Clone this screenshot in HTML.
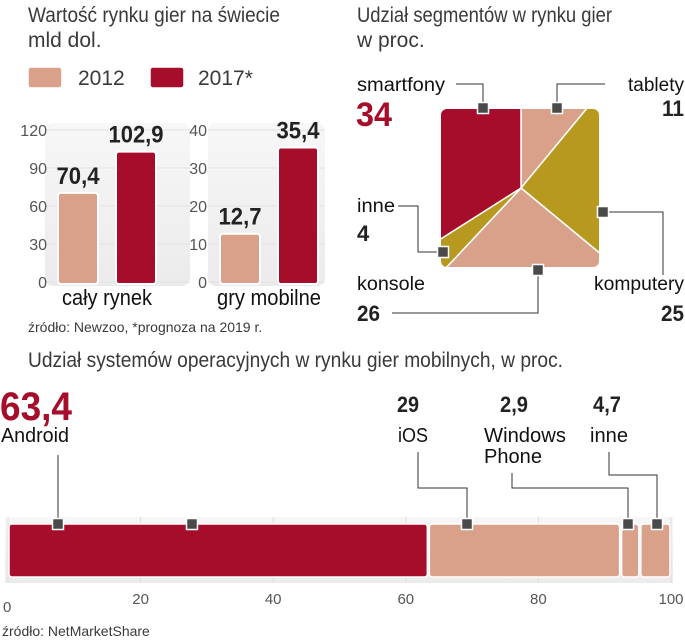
<!DOCTYPE html>
<html><head><meta charset="utf-8"><style>
html,body{margin:0;padding:0;background:#fff;}
svg{display:block;font-family:"Liberation Sans Narrow","Liberation Sans",sans-serif;}
.t{fill:#3a3a3a;}
.b{font-weight:bold;}
</style></head><body>
<svg id="c" width="685" height="640" viewBox="0 0 685 640">
<defs>
<clipPath id="sq"><rect x="440" y="108" width="160" height="160" rx="7"/></clipPath>
<linearGradient id="pg" x1="0" y1="0" x2="0" y2="1"><stop offset="0" stop-color="#f7f7f7"/><stop offset="1" stop-color="#ebebeb"/></linearGradient>
</defs>
<text x="28" y="22" font-size="21" class="t" textLength="252" lengthAdjust="spacingAndGlyphs">Wartość rynku gier na świecie</text>
<text x="28" y="47" font-size="21" class="t">mld dol.</text>
<g>
<rect x="28" y="67" width="34" height="21" rx="3" fill="#d9a08a" stroke="#fff" stroke-width="1.5"/>
<text x="78" y="85" font-size="21" class="t">2012</text>
<rect x="150" y="67" width="34" height="21" rx="3" fill="#a50d2a" stroke="#fff" stroke-width="1.5"/>
<text x="198" y="85" font-size="21" class="t">2017*</text>
</g>
<g id="bars"></g>
<text x="28" y="332" font-size="14" class="t">źródło: Newzoo, *prognoza na 2019 r.</text>

<text x="357" y="22" font-size="21" class="t" textLength="255" lengthAdjust="spacingAndGlyphs">Udział segmentów w rynku gier</text>
<text x="357" y="47" font-size="21" class="t">w proc.</text>
<g id="pie"></g>

<text x="28" y="367" font-size="21" class="t" textLength="535" lengthAdjust="spacingAndGlyphs">Udział systemów operacyjnych w rynku gier mobilnych, w proc.</text>
<g id="os"></g>
<text x="2" y="636" font-size="14" class="t">źródło: NetMarketShare</text>
</svg>
<script>
// ---- bar charts data ----
const barGroups = ["cały rynek", "gry mobilne"];
const values2012 = [70.4, 12.7];
const values2017 = [102.9, 35.4];
const valueLabels2012 = ["70,4", "12,7"];
const valueLabels2017 = ["102,9", "35,4"];
const axisMax = [120, 40];
const ticks1 = [0, 30, 60, 90, 120];
const ticks2 = [0, 10, 20, 30, 40];
// ---- segments data ----
const segNames = ["tablety", "komputery", "konsole", "inne", "smartfony"];
const segValues = [11, 25, 26, 4, 34];
// ---- OS data ----
const osNames = ["Android", "iOS", "Windows Phone", "inne"];
const osValues = [63.4, 29, 2.9, 4.7];
const osLabels = ["63,4", "29", "2,9", "4,7"];
const osTicks = [0, 20, 40, 60, 80, 100];

const NS = "http://www.w3.org/2000/svg";
function mk(parent, tag, attrs, text) {
  const e = document.createElementNS(NS, tag);
  for (const k in attrs) e.setAttribute(k, attrs[k]);
  if (text !== undefined) e.textContent = text;
  parent.appendChild(e);
  return e;
}
const RED = "#a50d2a", PINK = "#d9a08a", GOLD = "#b8991f";

// ---- bar charts ----
const bars = document.getElementById("bars");
const panels = [{x0: 45, x1: 190, lx: 47, ticks: ticks1, b1: 58, b2: 116},
                {x0: 208, x1: 325, lx: 207, ticks: ticks2, b1: 220, b2: 278}];
const yBase = 282, yTop = 130;
barGroups.forEach((g, i) => {
  const p = panels[i];
  const y = v => yBase - (v / axisMax[i]) * (yBase - yTop);
  const panel = mk(bars, "rect", {x: p.x0, y: 123, width: p.x1 - p.x0, height: 163, rx: 8, fill: "url(#pg)"});
  
  
  p.ticks.forEach(t => {
    const gl = mk(bars, "line", {x1: p.x0, x2: p.x1, y1: y(t), y2: y(t), stroke: "#e2e2e2", "stroke-width": 1});
    
    
    const tl = mk(bars, "text", {x: p.lx, y: y(t) + 6, "font-size": 16, "text-anchor": "end", style: "fill:#555"}, t);
    
    
  });
  [[values2012[i], valueLabels2012[i], PINK, p.b1, '2012'], [values2017[i], valueLabels2017[i], RED, p.b2, '2017']].forEach(([v, lab, col, bx, yr]) => {
    const r = mk(bars, "rect", {x: bx, y: y(v), width: 40, height: yBase - y(v) + 2, rx: 3, fill: col, stroke: "#fff", "stroke-width": 2});
    
    
    const tx = mk(bars, "text", {x: bx + 20, y: y(v) - 9, "font-size": 24, "text-anchor": "middle", class: "b", style: "fill:#222", textLength: lab.length > 4 ? 55 : 43, lengthAdjust: "spacingAndGlyphs"}, lab);
    
    
  });
  const cl = mk(bars, "text", {x: (p.b1 + p.b2 + 40) / 2, y: 305, "font-size": 22, "text-anchor": "middle", style: "fill:#111", textLength: i === 0 ? 90 : 104, lengthAdjust: "spacingAndGlyphs"}, g);
  
  
});

// ---- segments (pie clipped to square) ----
const pie = document.getElementById("pie");
const cx = 521, cy = 188, R = 200;
const sqBg = mk(pie, "rect", {x: 438, y: 106, width: 164, height: 164, rx: 8, fill: "#fff"});


const wedgeG = mk(pie, "g", {"clip-path": "url(#sq)"});
const segColors = [PINK, GOLD, PINK, GOLD, RED];
const total = segValues.reduce((a, b) => a + b, 0);
let acc = 0;
const pt = a => [cx + R * Math.sin(a), cy - R * Math.cos(a)];
segValues.forEach((v, i) => {
  const a0 = acc / total * 2 * Math.PI; acc += v;
  const a1 = acc / total * 2 * Math.PI;
  const p0 = pt(a0), p1 = pt(a1);
  const large = (a1 - a0) > Math.PI ? 1 : 0;
  const w = mk(wedgeG, "path", {d: `M${cx},${cy} L${p0[0]},${p0[1]} A${R},${R} 0 ${large} 1 ${p1[0]},${p1[1]} Z`, fill: segColors[i], stroke: "#fff", "stroke-width": 1.5});
  
  
});
const sqOutline = mk(pie, "rect", {x: 440, y: 108, width: 160, height: 160, rx: 7, fill: "none", stroke: "#fff", "stroke-width": 2});



function leader(g, d) {
  const l = mk(g, "path", {d: d, fill: "none", stroke: "#333", "stroke-width": 1});
  
  
}
function marker(g, x, y) {
  const m = mk(g, "rect", {x: x - 5.5, y: y - 5.5, width: 11, height: 11, fill: "#4a4a4a", stroke: "#fff", "stroke-width": 1.5});
  
  
}
function label(g, x, y, s, txt, anchor, bold, fill, name, w) {
  const a = {x: x, y: y, "font-size": s, "text-anchor": anchor || "start", style: "fill:" + (fill || "#222")};
  if (bold) a.class = "b";
  if (w) { a.textLength = w; a.lengthAdjust = "spacingAndGlyphs"; }
  const t = mk(g, "text", a, txt);
  
  
}
leader(pie, "M456,84 H483 V108");
leader(pie, "M605,84 H557 V108");
leader(pie, "M603,212 H663 V275");
leader(pie, "M398,206 H418 V252 H443");
leader(pie, "M392,313 H538 V270");
marker(pie, 483, 108); marker(pie, 557, 108); marker(pie, 603, 212); marker(pie, 443, 252); marker(pie, 538, 270);
label(pie, 357, 91, 19, segNames[4], "start", false, "#111", 'segment-label', 88);
label(pie, 356, 126, 34, String(segValues[4]), "start", true, RED, 'segment-value', 36);
label(pie, 684, 91, 19, segNames[0], "end", false, "#111", 'segment-label', 56);
label(pie, 684, 116, 22, String(segValues[0]), "end", true, "#222", 'segment-value', 22);
label(pie, 357, 212, 19, segNames[3], "start", false, "#111", 'segment-label', 38);
label(pie, 357, 241, 22, String(segValues[3]), "start", true, "#222", 'segment-value');
label(pie, 357, 290, 19, segNames[2], "start", false, "#111", 'segment-label', 68);
label(pie, 357, 321, 22, String(segValues[2]), "start", true, "#222", 'segment-value', 23);
label(pie, 684, 290, 19, segNames[1], "end", false, "#111", 'segment-label', 90);
label(pie, 684, 321, 22, String(segValues[1]), "end", true, "#222", 'segment-value', 23);

// ---- OS stacked bar ----
const os = document.getElementById("os");
const X = v => 8 + v * 6.63;
const osPanel = mk(os, "rect", {x: 5, y: 517, width: 668, height: 66, fill: "url(#pg)"});


osTicks.forEach((t, i) => {
  const gl = mk(os, "line", {x1: X(t), x2: X(t), y1: 517, y2: 583, stroke: "#dedede"});
  
  
  const tl = mk(os, "text", {x: X(t), y: i === 0 ? 612 : 604, "font-size": 15, "text-anchor": i === 0 ? "start" : "middle", style: "fill:#555"}, t);
  if (i === 0) tl.setAttribute("x", 3);
  
  
});
const osColors = [RED, PINK, PINK, PINK];
let oacc = 0;
osValues.forEach((v, i) => {
  const r = mk(os, "rect", {x: X(oacc) + 1, y: 524, width: Math.max(1, X(oacc + v) - X(oacc) - 2), height: 53, rx: 3, fill: osColors[i], stroke: "#fff", "stroke-width": 1.5});
  
  
  oacc += v;
});
leader(os, "M58,455 V524");
leader(os, "M418,452 V488 H467 V524");
leader(os, "M512,473 V488 H628 V524");
leader(os, "M609,452 V475 H657 V524");
marker(os, 58, 524); marker(os, 192, 524); marker(os, 467, 524); marker(os, 628, 524); marker(os, 657, 524);
label(os, 0, 420, 40, osLabels[0], "start", true, RED, 'os-value', 72);
label(os, 1, 442, 20, osNames[0], "start", false, "#111", 'os-label', 68);
label(os, 397, 412, 22, osLabels[1], "start", true, "#222", 'os-value', 22);
label(os, 398, 442, 20, osNames[1], "start", false, "#111", 'os-label', 30);
label(os, 500, 412, 22, osLabels[2], "start", true, "#222", 'os-value', 28);
label(os, 484, 442, 20, "Windows", "start", false, "#111", 'os-label', 82);
label(os, 484, 463, 20, "Phone", "start", false, "#111", 'os-label', 58);
label(os, 593, 412, 22, osLabels[3], "start", true, "#222", 'os-value', 28);
label(os, 590, 442, 20, osNames[3], "start", false, "#111", 'os-label', 38);
</script>
</body></html>
